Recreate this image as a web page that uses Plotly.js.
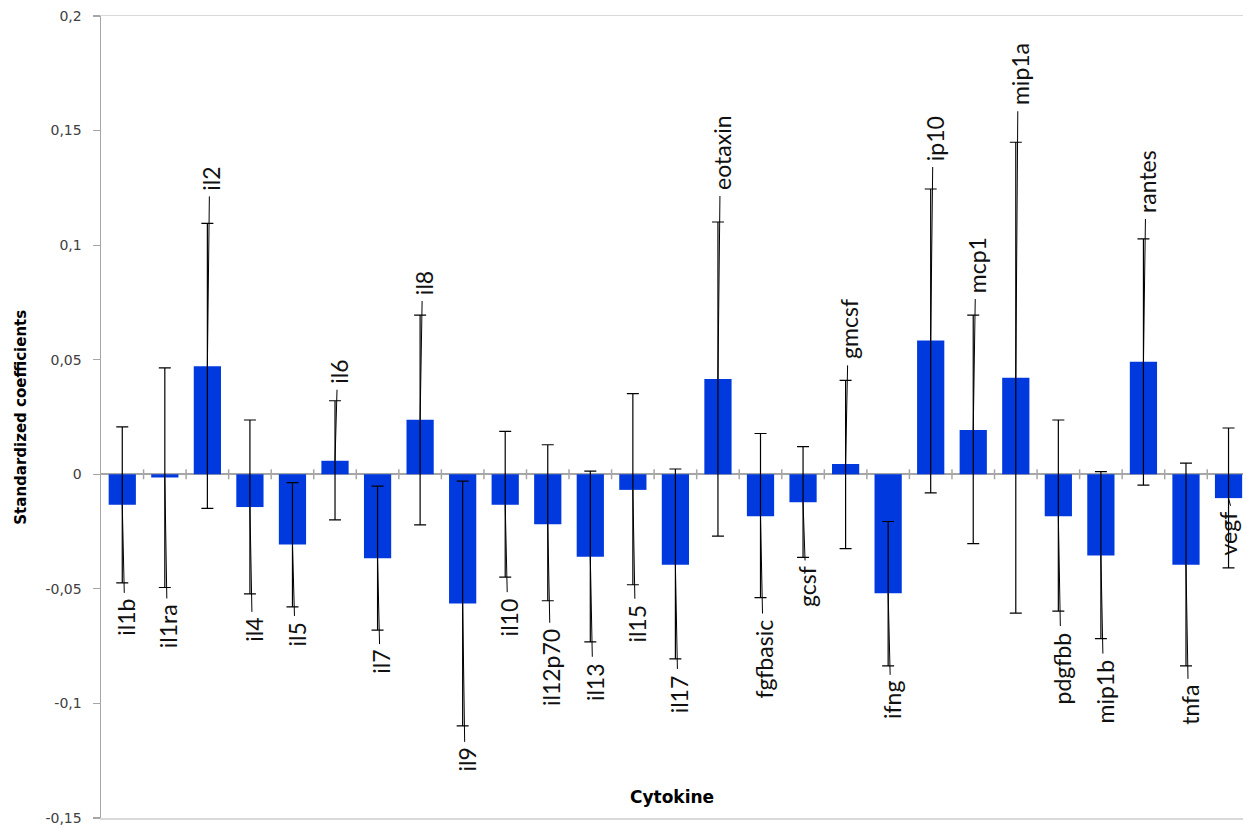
<!DOCTYPE html>
<html>
<head>
<meta charset="utf-8">
<script src="https://cdn.plot.ly/plotly-3.0.1.min.js"></script>
<style>
  html, body { margin: 0; padding: 0; background: #ffffff; }
  #chart { width: 1243px; height: 828px; }
</style>
</head>
<body>
<div id="chart"></div>
<script>
// ---- data ----
const categories = ["il1b","il1ra","il2","il4","il5","il6","il7","il8","il9","il10","il12p70","il13","il15","il17","eotaxin","fgfbasic","gcsf","gmcsf","ifng","ip10","mcp1","mip1a","pdgfbb","mip1b","rantes","tnfa","vegf"];
const coef = [-0.0133,-0.0014,0.0471,-0.0143,-0.0306,0.0059,-0.0366,0.0238,-0.0564,-0.0133,-0.0218,-0.0360,-0.0068,-0.0395,0.0416,-0.0183,-0.0122,0.0045,-0.0519,0.0584,0.0193,0.0421,-0.0183,-0.0354,0.0491,-0.0395,-0.0104];
const ciUpper = [0.0207,0.0464,0.1095,0.0237,-0.0036,0.0321,-0.0052,0.0695,-0.0030,0.0187,0.0129,0.0014,0.0352,0.0023,0.1101,0.0178,0.0121,0.0410,-0.0206,0.1245,0.0695,0.1449,0.0237,0.0012,0.1027,0.0049,0.0202];
const ciLower = [-0.0474,-0.0494,-0.0149,-0.0522,-0.0579,-0.0199,-0.0680,-0.0221,-0.1098,-0.0449,-0.0552,-0.0731,-0.0482,-0.0806,-0.0270,-0.0538,-0.0363,-0.0324,-0.0836,-0.0081,-0.0303,-0.0606,-0.0597,-0.0717,-0.0047,-0.0836,-0.0408];
const yTickVals = [0.2,0.15,0.1,0.05,0,-0.05,-0.1,-0.15];
const yTickText = ["0,2","0,15","0,1","0,05","0","-0,05","-0,1","-0,15"];

// ---- layout / styling ----
const W = 1243, H = 828;
const M = {l: 101, r: 0, t: 16, b: 10};
const yMin = -0.15, yMax = 0.2;
const xMin = -0.5, xMax = 26.34;
const pxPerY = (H - M.t - M.b) / (yMax - yMin);
const pxPerX = (W - M.l - M.r) / (xMax - xMin);
// leader line length (px) beyond the error-bar end, per label
const leaderPx = [10,11,27,18,9,11,14,14,16,15,22,15,14,10,26,16,3,15,9,22,16,31,15,15,20,13,-62];
const labelSize = 23;
const barColor = "#003ADF";
const axisGray = "#a6a6a6";

const xs = categories.map((_, i) => i);

const trace = {
  type: "bar",
  x: xs,
  y: coef,
  width: 0.64,
  marker: {color: barColor, line: {width: 0}},
  error_y: {
    type: "data",
    symmetric: false,
    array: coef.map((v, i) => ciUpper[i] - v),
    arrayminus: coef.map((v, i) => v - ciLower[i]),
    color: "#000000",
    thickness: 1.2,
    width: 6
  },
  hoverinfo: "skip"
};

const shapes = [];
const annotations = [];
const dxLeader = 2 / pxPerX;

categories.forEach((name, i) => {
  const up = coef[i] >= 0;
  const end = up ? ciUpper[i] : ciLower[i];
  const leadEnd = up ? end + leaderPx[i] / pxPerY : end - leaderPx[i] / pxPerY;
  shapes.push({
    type: "line", xref: "x", yref: "y",
    x0: i, x1: i + dxLeader, y0: coef[i], y1: leadEnd,
    line: {color: "#000000", width: 1}
  });
  // keep the label box inside the page width
  const cx = M.l + (i - xMin) * pxPerX + 2 + 2;
  const half = labelSize * 0.62;
  const xshift = Math.min(2, 2 - (cx + half - (W - 1)));
  annotations.push({
    xref: "x", yref: "y", x: i + dxLeader, y: leadEnd,
    text: name, showarrow: false, textangle: -90,
    xanchor: "center", yanchor: up ? "bottom" : "top",
    yshift: up ? 4 : -4, xshift: xshift,
    font: {family: "Lato, 'Open Sans', sans-serif", size: labelSize, color: "#111111"}
  });
});

// crossing tick marks on the zero line, between categories
for (let i = 0; i < categories.length - 1; i++) {
  shapes.push({
    type: "line", xref: "x", yref: "y",
    x0: i + 0.5, x1: i + 0.5, y0: -5 / pxPerY, y1: 5 / pxPerY,
    line: {color: axisGray, width: 1.5}
  });
}

const plotW = W - M.l - M.r, plotH = H - M.t - M.b;
annotations.push({
  xref: "paper", yref: "paper",
  x: (20.7 - M.l) / plotW, y: 0.5,
  xanchor: "center", yanchor: "middle", textangle: -90, showarrow: false,
  text: "Standardized coefficients",
  font: {family: "DejaVu Sans", size: 15, color: "#000000", weight: "bold"}
});
annotations.push({
  xref: "paper", yref: "paper",
  x: 0.5, y: (H - M.b - 797.3) / plotH,
  xanchor: "center", yanchor: "middle", showarrow: false,
  text: "Cytokine",
  font: {family: "DejaVu Sans", size: 17, color: "#000000", weight: "bold"}
});

const layout = {
  width: W, height: H,
  margin: M,
  paper_bgcolor: "#ffffff",
  plot_bgcolor: "#ffffff",
  showlegend: false,
  bargap: 0.36,
  xaxis: {
    range: [xMin, xMax],
    showgrid: false, zeroline: false,
    showticklabels: false, ticks: "",
    showline: true, mirror: true, linecolor: "#d9d9d9", linewidth: 1.5,
    fixedrange: true
  },
  yaxis: {
    range: [yMin, yMax],
    tickmode: "array", tickvals: yTickVals, ticktext: yTickText,
    showgrid: false,
    zeroline: true, zerolinecolor: axisGray, zerolinewidth: 2,
    showline: true, linecolor: axisGray, linewidth: 1.5,
    ticks: "outside", ticklen: 7, tickcolor: axisGray, tickwidth: 1.2,
    ticklabelstandoff: 8,
    tickfont: {family: "DejaVu Sans", size: 14, color: "#404040"},
    fixedrange: true
  },
  shapes: shapes,
  annotations: annotations
};

Plotly.newPlot("chart", [trace], layout, {displayModeBar: false, staticPlot: true});
</script>
</body>
</html>
